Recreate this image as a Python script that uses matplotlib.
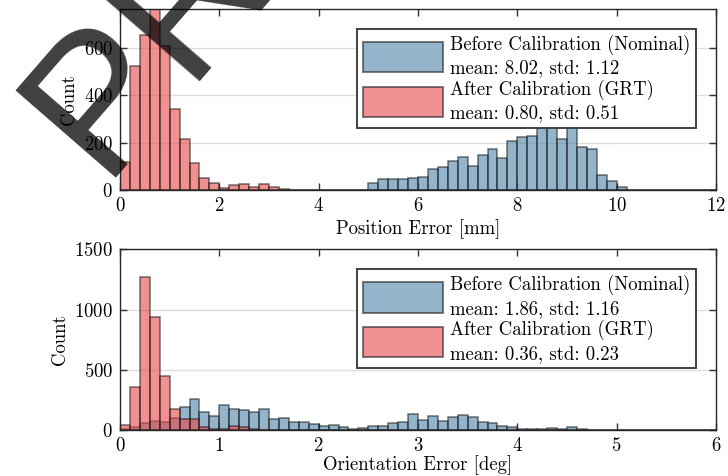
import numpy as np
import matplotlib
matplotlib.use("Agg")
import matplotlib.pyplot as plt

# ---------------- data ----------------
pos_edges = np.round(np.arange(0, 12.0001, 0.2), 3)          # 60 bins, 0.2 mm
ori_edges = np.round(np.arange(0, 6.0001, 0.1), 3)           # 60 bins, 0.1 deg

pos_before = [0] * 25 + [28, 48, 48, 48, 52, 56, 90, 97, 124, 139,
                         103, 147, 172, 134, 206, 225, 230, 261, 290, 216,
                         300, 180, 173, 65, 38, 13] + [0] * 9
pos_after = [120, 524, 655, 765, 609, 342, 216, 114, 51, 30,
             7, 20, 24, 13, 25, 11, 3, 2, 1, 1,
             1, 1, 0, 0, 0] + [0] * 35

ori_before = [8, 22, 61, 78, 64, 103, 192, 256, 147, 114,
              205, 175, 167, 153, 172, 89, 97, 69, 64, 47,
              33, 39, 22, 8, 14, 33, 36, 57, 68, 136,
              81, 117, 75, 108, 128, 108, 69, 58, 33, 28,
              11, 6, 11, 19, 8, 25, 8, 2, 1, 1] + [0] * 10
ori_after = [39, 357, 1273, 935, 445, 178, 95, 92, 28, 11,
             5, 37, 22, 8, 4, 3, 2, 1] + [0] * 42

labels_pos = ["Before Calibration (Nominal)\nmean: 8.02, std: 1.12",
              "After Calibration (GRT)\nmean: 0.80, std: 0.51"]
labels_ori = ["Before Calibration (Nominal)\nmean: 1.86, std: 1.16",
              "After Calibration (GRT)\nmean: 0.36, std: 0.23"]

# ---------------- style ----------------
FS = 13.5
plt.rcParams.update({
    "font.family": "serif",
    "font.serif": ["cmr10"],
    "mathtext.fontset": "cm",
    "axes.formatter.use_mathtext": True,
    "font.size": FS,
})

BLUE = "#4d82aa"
RED = "#e64646"
ALPHA = 0.6
EDGE = "#1a1a1a"

fig = plt.figure(figsize=(7.28, 4.76), dpi=100)
ax1 = fig.add_axes([120 / 728, 1 - 190 / 476, 596 / 728, 181 / 476])
ax2 = fig.add_axes([120 / 728, 1 - 430 / 476, 596 / 728, 180.7 / 476])


def draw(ax, edges, before, after, labels, xlim, ylim, xticks, yticks, xlabel, xlpad):
    w = np.diff(edges)
    ax.bar(edges[:-1], before, width=w, align="edge", color=BLUE, alpha=ALPHA,
           edgecolor=EDGE, linewidth=1.1, label=labels[0], zorder=2)
    ax.bar(edges[:-1], after, width=w, align="edge", color=RED, alpha=ALPHA,
           edgecolor=EDGE, linewidth=1.1, label=labels[1], zorder=3)
    ax.set_xlim(*xlim)
    ax.set_ylim(*ylim)
    ax.set_xticks(xticks)
    ax.set_yticks(yticks)
    ax.grid(axis="y", color="#dddddd", linewidth=1.0, zorder=0)
    ax.set_axisbelow(True)
    ax.tick_params(direction="in", top=True, right=True, length=5,
                   width=1.0, labelsize=FS, pad=5, color="#333333")
    for s in ax.spines.values():
        s.set_color("#262626")
        s.set_linewidth(1.0)
        s.set_zorder(5)
    ax.set_xlabel(xlabel, fontsize=FS, labelpad=xlpad)
    ax.set_ylabel("Count", fontsize=FS, labelpad=4)
    leg = ax.legend(loc="upper right", bbox_to_anchor=(0.9664, 0.8895),
                    fontsize=FS, handlelength=4.3, handleheight=2.1,
                    handletextpad=0.35, labelspacing=0.1, borderpad=0.3,
                    borderaxespad=0.0, fancybox=False, framealpha=1.0,
                    edgecolor="#404040")
    leg.get_frame().set_linewidth(1.4)
    leg.set_zorder(10)
    for t in leg.get_texts():
        t.set_linespacing(1.35)
    for h in leg.legend_handles:
        h.set_alpha(ALPHA)
        h.set_edgecolor("#222222")
        h.set_linewidth(1.4)


draw(ax1, pos_edges, pos_before, pos_after, labels_pos, (0, 12), (0, 765),
     [0, 2, 4, 6, 8, 10, 12], [0, 200, 400, 600], "Position Error [mm]", 3)
draw(ax2, ori_edges, ori_before, ori_after, labels_ori, (0, 6), (0, 1500),
     [0, 1, 2, 3, 4, 5, 6], [0, 500, 1000, 1500], "Orientation Error [deg]", 0.5)

# watermark
fig.text(100 / 728, 1 - 178 / 476, "PREPRINT", family="Liberation Sans",
         fontsize=139, color="black", alpha=0.75, rotation=49,
         rotation_mode="anchor", ha="left", va="baseline", zorder=20)

fig.savefig("out.png", dpi=100)
